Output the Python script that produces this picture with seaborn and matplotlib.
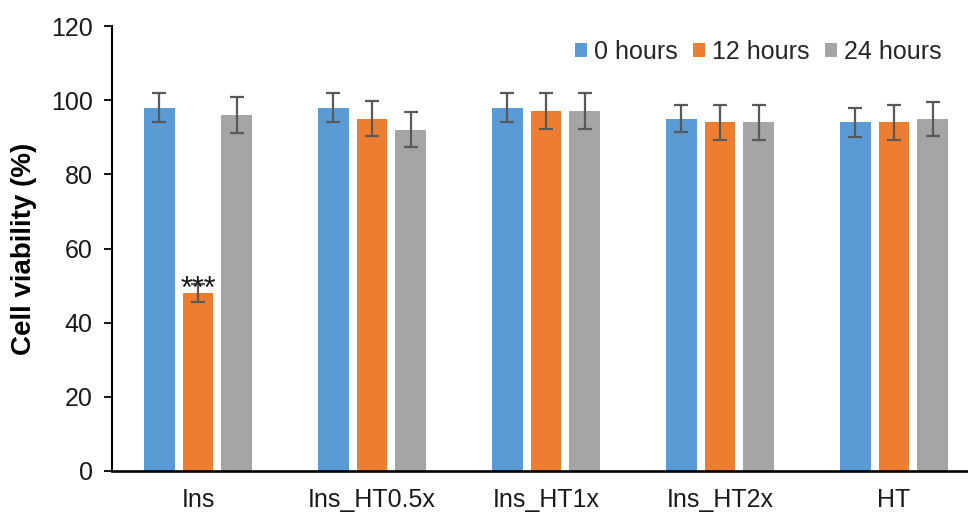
import numpy as np
import pandas as pd
import seaborn as sns
import matplotlib
matplotlib.use("Agg")
import matplotlib.pyplot as plt

# Treatment groups and time points
groups = ["Ins", "Ins_HT0.5x", "Ins_HT1x", "Ins_HT2x", "HT"]
times = ["0 hours", "12 hours", "24 hours"]

# Mean cell viability (%) per time point, one value per group
viab_0h = [98, 98, 98, 95, 94]
viab_12h = [48, 95, 97, 94, 94]
viab_24h = [96, 92, 97, 94, 95]

# Standard deviations
sd_0h = [4.0, 4.0, 4.0, 3.7, 3.8]
sd_12h = [2.5, 4.7, 4.8, 4.8, 4.8]
sd_24h = [4.8, 4.7, 4.8, 4.8, 4.6]

colors = ["#5B9BD5", "#ED7D31", "#A5A5A5"]

means = [viab_0h, viab_12h, viab_24h]
sds = [sd_0h, sd_12h, sd_24h]

rows = []
for t, m_list, s_list in zip(times, means, sds):
    for g, m, s in zip(groups, m_list, s_list):
        rows.append({"group": g, "time": t, "viability": m, "sd": s})
df = pd.DataFrame(rows)

sns.set_theme(style="white")
plt.rcParams["font.family"] = ["Liberation Sans", "DejaVu Sans"]

W, H = 968, 513
fig = plt.figure(figsize=(W / 100, H / 100), dpi=100)
ax = fig.add_axes([112 / W, 1 - 471 / H, 1 - 112 / W, (471 - 26) / H])

sns.barplot(data=df, x="group", y="viability", hue="time", order=groups,
            hue_order=times, palette=colors, width=0.665, gap=0.2,
            errorbar=None, saturation=1, ax=ax, edgecolor="none")

# Error bars centred on each drawn bar
for cont, s_list in zip(ax.containers, sds):
    for patch, s in zip(cont.patches, s_list):
        xc = patch.get_x() + patch.get_width() / 2
        ax.errorbar(xc, patch.get_height(), yerr=s, fmt="none",
                    ecolor="#595959", elinewidth=1.6, capsize=4.8,
                    capthick=1.6, zorder=5)

# Significance marker above the 12 h Ins bar
ins_bar = ax.containers[1].patches[0]
ax.text(ins_bar.get_x() + ins_bar.get_width() / 2, ins_bar.get_height() - 1.2,
        "***", ha="center", va="baseline", fontsize=22, color="#1a1a1a",
        zorder=6)

ax.set_ylim(0, 120)
ax.set_yticks(np.arange(0, 121, 20))
ax.set_xlim(-0.494, 4.425)

ax.set_xlabel("")
ax.set_ylabel("Cell viability (%)", fontsize=20, fontweight="bold",
              color="black", labelpad=10)

for side in ["top", "right"]:
    ax.spines[side].set_visible(False)
ax.spines["left"].set_color("black")
ax.spines["left"].set_linewidth(1.5)
ax.spines["bottom"].set_color("black")
ax.spines["bottom"].set_linewidth(1.9)

ax.tick_params(axis="y", which="major", left=True, length=5.8, width=1.3,
               color="black", labelsize=18, labelcolor="#1a1a1a", pad=8)
ax.tick_params(axis="x", which="major", bottom=False, labelsize=18,
               labelcolor="#1a1a1a", pad=6)

ax.legend(loc="center right", bbox_to_anchor=(942 / W, 1 - 52 / H),
          bbox_transform=fig.transFigure, ncol=3, frameon=False,
          fontsize=18, handlelength=0.48, handleheight=0.48,
          handletextpad=0.3, columnspacing=0.6, borderpad=0,
          borderaxespad=0)

fig.savefig("out.png", dpi=100)
